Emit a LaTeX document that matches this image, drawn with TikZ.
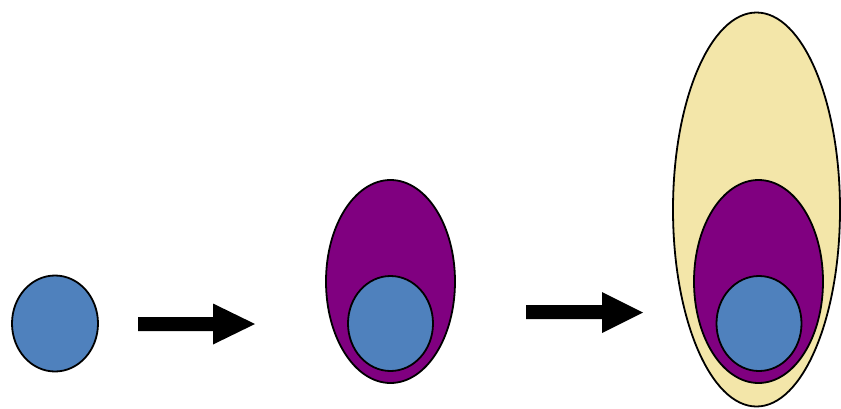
\documentclass[tikz,border=0pt]{standalone}
\definecolor{cblue}{HTML}{4F81BD}
\definecolor{cpurple}{HTML}{800080}
\definecolor{cyellow}{HTML}{F3E6A9}
\begin{document}
\begin{tikzpicture}[x=1pt,y=-1pt,
  blob/.style={draw=black,line width=1.8pt},
  fatarrow/.style={fill=black,draw=none}]
\useasboundingbox (0,0) rectangle (841,408);
% stage 1
\draw[blob,fill=cblue] (55,323.5) ellipse [x radius=43,y radius=48];
% arrow 1
\fill[fatarrow] (138,317) -- (213,317) -- (213,303.5) -- (255,324) -- (213,344.5) -- (213,331) -- (138,331) -- cycle;
% stage 2
\draw[blob,fill=cpurple] (390.5,281.5) ellipse [x radius=64.5,y radius=101.5];
\draw[blob,fill=cblue] (390.5,323.5) ellipse [x radius=42.5,y radius=47.5];
% arrow 2
\fill[fatarrow] (526,305) -- (602,305) -- (602,292) -- (643,312.5) -- (602,333) -- (602,319) -- (526,319) -- cycle;
% stage 3
\draw[blob,fill=cyellow] (756.5,209.5) ellipse [x radius=83.5,y radius=197];
\draw[blob,fill=cpurple] (758.5,281.5) ellipse [x radius=64.5,y radius=101.5];
\draw[blob,fill=cblue] (759,323.5) ellipse [x radius=42.5,y radius=47.5];
\end{tikzpicture}
\end{document}
